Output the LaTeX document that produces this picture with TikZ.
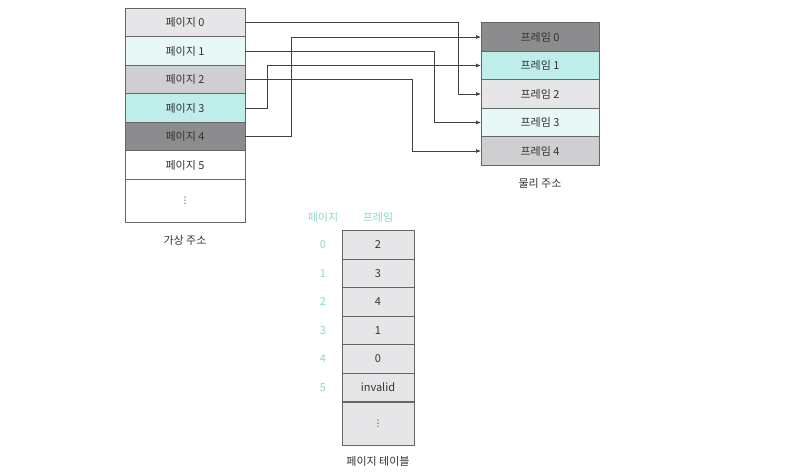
\documentclass[tikz,border=0pt]{standalone}
\usepackage{fontspec}
\setmainfont{Noto Sans CJK KR}
\newfontfamily\symfont{DejaVu Sans}
\usepackage{tikz}
\usetikzlibrary{arrows.meta, positioning, calc}

\definecolor{pglight}{HTML}{E6E6E8}
\definecolor{pgpale}{HTML}{E8F8F7}
\definecolor{pgmid}{HTML}{CFCFD2}
\definecolor{pgcyan}{HTML}{BFEEEA}
\definecolor{pgdark}{HTML}{8C8C8E}
\definecolor{idxcol}{HTML}{8FD6CE}
\definecolor{txtcol}{HTML}{333333}

\tikzset{
  cell/.style={draw=black!60, line width=0.8pt, inner sep=0pt, outer sep=0pt,
    minimum height=28.5pt, text=txtcol, font=\fontsize{11}{13}\selectfont},
  vcell/.style={cell, minimum width=120pt},
  fcell/.style={cell, minimum width=118pt},
  tcell/.style={cell, minimum width=72pt, fill=pglight},
  idx/.style={text=idxcol, font=\fontsize{11}{13}\selectfont},
  caption/.style={text=txtcol, font=\fontsize{11}{13}\selectfont},
  map/.style={-{Latex[length=5pt,width=4pt]}, line width=0.7pt, draw=black!75}
}

\begin{document}
\begin{tikzpicture}[x=1pt, y=-1pt]
  \useasboundingbox (0,0) rectangle (808,476);

  % Espace virtuel
  \node[vcell, fill=pglight] (p0) at (185,22.5) {페이지 0};
  \node[vcell, fill=pgpale]  (p1) at (185,51)   {페이지 1};
  \node[vcell, fill=pgmid]   (p2) at (185,79.5) {페이지 2};
  \node[vcell, fill=pgcyan]  (p3) at (185,108)  {페이지 3};
  \node[vcell, fill=pgdark]  (p4) at (185,136.5){페이지 4};
  \node[vcell, fill=white]   (p5) at (185,165)  {페이지 5};
  \node[vcell, fill=white, minimum height=43pt] (p6) at (185,200.5) {\symfont\fontsize{9}{11}\selectfont ⋮};
  \node[caption] (vlabel) at (185,240) {가상 주소};

  % Memoire physique
  \node[fcell, fill=pgdark]  (f0) at (540,37)    {프레임 0};
  \node[fcell, fill=pgcyan]  (f1) at (540,65.5)  {프레임 1};
  \node[fcell, fill=pglight] (f2) at (540,94)    {프레임 2};
  \node[fcell, fill=pgpale]  (f3) at (540,122.5) {프레임 3};
  \node[fcell, fill=pgmid]   (f4) at (540,151)   {프레임 4};
  \node[caption] (plabel) at (540,183) {물리 주소};

  % Points de coude
  \coordinate (k0) at (458,0);
  \coordinate (k1) at (434,0);
  \coordinate (k2) at (412,0);
  \coordinate (k3) at (267,0);
  \coordinate (k4) at (291,0);

  % Correspondances
  \draw[map] (p0.east) -- (p0.east -| k0) |- (f2.west);
  \draw[map] (p1.east) -- (p1.east -| k1) |- (f3.west);
  \draw[map] (p2.east) -- (p2.east -| k2) |- (f4.west);
  \draw[map] (p3.east) -- (p3.east -| k3) |- (f1.west);
  \draw[map] (p4.east) -- (p4.east -| k4) |- (f0.west);

  % Table des pages
  \node[idx] (hpage) at (323,217) {페이지};
  \node[idx] (hframe) at (378,217) {프레임};
  \node[tcell] (t0) at (378,245)   {2};
  \node[tcell] (t1) at (378,273.5) {3};
  \node[tcell] (t2) at (378,302)   {4};
  \node[tcell] (t3) at (378,330.5) {1};
  \node[tcell] (t4) at (378,359)   {0};
  \node[tcell] (t5) at (378,387.5) {invalid};
  \node[tcell, minimum height=43pt] (t6) at (378,423.5) {\symfont\fontsize{9}{11}\selectfont ⋮};
  \node[idx] (i0) at (323,245)   {0};
  \node[idx] (i1) at (323,273.5) {1};
  \node[idx] (i2) at (323,302)   {2};
  \node[idx] (i3) at (323,330.5) {3};
  \node[idx] (i4) at (323,359)   {4};
  \node[idx] (i5) at (323,387.5) {5};
  \node[caption] (tlabel) at (378,461) {페이지 테이블};
\end{tikzpicture}
\end{document}
